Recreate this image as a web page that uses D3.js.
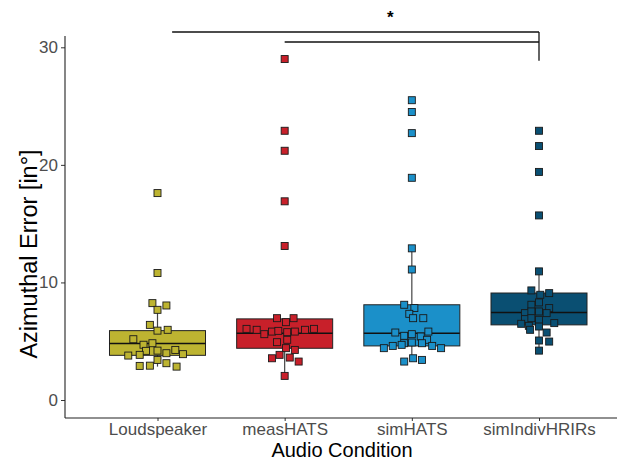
<!DOCTYPE html>
<html>
<head>
<meta charset="utf-8">
<script src="https://cdn.jsdelivr.net/npm/d3@7"></script>
<style>
  body { margin: 0; background: #fff; }
  svg { display: block; font-family: "Liberation Sans", Arial, sans-serif; }
</style>
</head>
<body>
<svg id="chart" width="617" height="461"></svg>
<script>
const conditions = ['Loudspeaker', 'measHATS', 'simHATS', 'simIndivHRIRs'];
const colors = ['#bdb431', '#c8202a', '#1b90c9', '#0a4f72'];

// box stats: [lower whisker, q1, median, q3, upper whisker]
const boxLoudspeaker = [2.84, 3.8, 4.8, 5.9, 7.67];
const boxMeasHATS = [2.05, 4.4, 5.68, 6.9, 6.96];
const boxSimHATS = [3.27, 4.6, 5.68, 8.1, 12.9];
const boxSimIndiv = [4.2, 6.39, 7.44, 9.1, 10.94];

// participant errors and their horizontal jitter (fraction of a category step)
const valLoudspeaker = [17.6, 10.8, 8.24, 8.04, 7.67, 6.39, 5.9, 5.97, 5.17, 4.83, 4.7, 4.18, 4.2, 3.78, 3.84, 3.98, 4.26, 3.9, 2.9, 2.92, 3.41, 3.13, 2.84];
const jitLoudspeaker = [0, 0, -0.04, 0.07, 0, -0.06, 0, 0.08, -0.19, -0.04, -0.11, -0.09, 0, -0.23, -0.14, 0.07, 0.14, 0.2, -0.14, -0.06, 0, 0.07, 0.15];
const valMeasHATS = [29.0, 22.9, 21.2, 16.9, 13.1, 6.96, 6.62, 6.96, 6.05, 5.97, 5.6, 5.82, 5.88, 5.77, 5.82, 5.97, 6.05, 4.92, 5.12, 4.41, 4.26, 3.84, 3.55, 3.61, 3.27, 2.05];
const jitMeasHATS = [0, 0, 0, 0, 0, -0.06, 0.01, 0.07, -0.3, -0.22, -0.16, -0.1, -0.05, 0.02, 0.08, 0.16, 0.23, -0.06, 0.02, 0.01, 0.08, -0.04, -0.1, 0.04, 0.11, 0];
const valSimHATS = [25.5, 24.5, 22.7, 18.9, 12.9, 11.1, 8.1, 7.82, 7.33, 6.96, 6.96, 5.74, 5.46, 5.6, 5.4, 5.82, 5.12, 4.83, 4.89, 4.83, 4.41, 4.6, 4.69, 4.6, 4.41, 3.27, 3.55, 3.41];
const jitSimHATS = [0, 0, 0, 0, 0, 0, -0.06, 0.02, -0.02, 0.01, 0.09, -0.13, -0.06, 0, 0.07, 0.13, 0.12, -0.06, 0, 0.08, -0.22, -0.15, -0.08, 0.16, 0.23, -0.06, 0.01, 0.08];
const valSimIndiv = [22.9, 21.6, 19.4, 15.7, 10.94, 9.32, 8.95, 9.09, 8.1, 8.3, 7.82, 7.39, 7.53, 7.53, 7.39, 6.88, 6.96, 6.82, 6.48, 6.31, 6.25, 6.54, 5.97, 5.74, 5.06, 4.97, 4.2];
const jitSimIndiv = [0, 0, 0, 0, 0, -0.06, 0.01, 0.08, -0.06, 0, 0.08, -0.11, -0.06, 0, 0.06, -0.11, -0.06, 0, -0.14, -0.08, 0, 0.12, -0.07, 0.06, 0, 0.08, 0];

const yTicks = [0, 10, 20, 30];

// significance brackets: [from, offset, to, height in degrees]
const brackets = [
  ['Loudspeaker', 0.115, 'simIndivHRIRs', 31.3],
  ['measHATS', 0, 'simIndivHRIRs', 30.45]
];
const bracketDrop = 28.85;
const starLabel = '*';

const boxes = [boxLoudspeaker, boxMeasHATS, boxSimHATS, boxSimIndiv];
const values = [valLoudspeaker, valMeasHATS, valSimHATS, valSimIndiv];
const jitters = [jitLoudspeaker, jitMeasHATS, jitSimHATS, jitSimIndiv];

const svg = d3.select('#chart');
const plotLeft = 65, plotRight = 640, plotTop = 36, plotBottom = 418;

const x = d3.scalePoint().domain(conditions).range([157.5, 539]);
const step = x.step();
const y = d3.scaleLinear().domain([0, 30]).range([400, 47.3]);
const boxW = step * 0.755;

// axes
const yAxis = svg.append('g')
  .attr('transform', `translate(${plotLeft},0)`)
  .call(d3.axisLeft(y).tickValues(yTicks).tickSize(4).tickPadding(3));
yAxis.select('.domain').remove();
yAxis.selectAll('text').attr('fill', '#4d4d4d').style('font-size', '17px');
yAxis.selectAll('line').attr('stroke', '#333');
svg.append('line')
  .attr('x1', plotLeft).attr('x2', plotLeft).attr('y1', plotTop).attr('y2', plotBottom)
  .attr('stroke', '#222').attr('stroke-width', 1.1);

const xAxis = svg.append('g')
  .attr('transform', `translate(0,${plotBottom})`)
  .call(d3.axisBottom(x).tickSize(3).tickPadding(2));
xAxis.select('.domain').remove();
xAxis.selectAll('text').attr('fill', '#4d4d4d').style('font-size', '17px');
xAxis.selectAll('line').attr('stroke', '#333');
svg.append('line')
  .attr('x1', plotLeft).attr('x2', plotRight).attr('y1', plotBottom).attr('y2', plotBottom)
  .attr('stroke', '#222').attr('stroke-width', 1.1);

// boxes
const groups = svg.selectAll('g.cond')
  .data(conditions)
  .enter().append('g')
  .attr('class', 'cond');

groups.append('line')
  .attr('x1', d => x(d)).attr('x2', d => x(d))
  .attr('y1', (d, i) => y(boxes[i][0])).attr('y2', (d, i) => y(boxes[i][4]))
  .attr('stroke', '#444').attr('stroke-width', 1.2);

groups.append('rect')
  .attr('x', d => x(d) - boxW / 2)
  .attr('width', boxW)
  .attr('y', (d, i) => y(boxes[i][3]))
  .attr('height', (d, i) => y(boxes[i][1]) - y(boxes[i][3]))
  .attr('fill', (d, i) => colors[i])
  .attr('stroke', '#222').attr('stroke-width', 1);

groups.append('line')
  .attr('x1', d => x(d) - boxW / 2).attr('x2', d => x(d) + boxW / 2)
  .attr('y1', (d, i) => y(boxes[i][2])).attr('y2', (d, i) => y(boxes[i][2]))
  .attr('stroke', '#111').attr('stroke-width', 1.6);

// jittered points
const pts = [];
conditions.forEach((c, i) => {
  values[i].forEach((v, j) => pts.push({ c, i, v, jit: jitters[i][j] }));
});
const s = 7;
svg.selectAll('rect.pt')
  .data(pts)
  .enter().append('rect')
  .attr('class', 'pt')
  .attr('x', d => x(d.c) + d.jit * step - s / 2)
  .attr('y', d => y(d.v) - s / 2)
  .attr('width', s).attr('height', s)
  .attr('fill', d => colors[d.i])
  .attr('stroke', '#1a1a1a').attr('stroke-width', 0.9);

// significance brackets
brackets.forEach(b => {
  const x1 = x(b[0]) + b[1] * step, x2 = x(b[2]);
  svg.append('line')
    .attr('x1', x1).attr('x2', x2).attr('y1', y(b[3])).attr('y2', y(b[3]))
    .attr('stroke', '#111').attr('stroke-width', 1.3);
});
svg.append('line')
  .attr('x1', x(brackets[0][2])).attr('x2', x(brackets[0][2]))
  .attr('y1', y(brackets[0][3])).attr('y2', y(bracketDrop))
  .attr('stroke', '#111').attr('stroke-width', 1.3);
svg.append('text')
  .attr('x', x(conditions[0]) + 1.83 * step)
  .attr('y', y(31.3) - 9)
  .attr('text-anchor', 'middle')
  .style('font-size', '17px').style('font-weight', 'bold')
  .text(starLabel);

// axis titles
svg.append('text')
  .attr('transform', `translate(37,${(plotTop + plotBottom) / 2 + 27}) rotate(-90)`)
  .attr('text-anchor', 'middle')
  .style('font-size', '23.5px')
  .text('Azimuthal Error [in°]');
svg.append('text')
  .attr('x', 342).attr('y', 456.5)
  .attr('text-anchor', 'middle')
  .style('font-size', '20px')
  .text('Audio Condition');
</script>
</body>
</html>
